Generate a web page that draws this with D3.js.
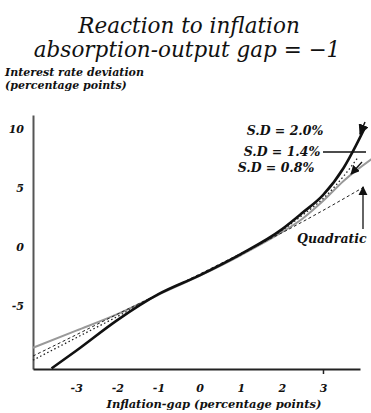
<!DOCTYPE html>
<html>
<head>
<meta charset="utf-8">
<script src="https://cdn.jsdelivr.net/npm/d3@7"></script>
<style>
	body { margin: 0; background: #fff; }
	svg { display: block; }
	.ttl { font-family: 'DejaVu Serif', serif; font-style: italic; font-size: 21.5px; fill: #111; }
	.lbl { font-family: 'DejaVu Serif', serif; font-style: italic; font-weight: bold; font-size: 11px; fill: #111; }
	.ann { font-family: 'DejaVu Serif', serif; font-style: italic; font-weight: bold; font-size: 12.5px; fill: #111; }
</style>
</head>
<body>
<div id="chart"></div>
<script>
// values (x = inflation gap, y = interest rate deviation)
let sd20X = [-3.6, -3, -2, -1, 0, 1, 2, 2.5, 3, 3.5, 3.8, 4.0];
let sd20Y = [-10.3, -8.8, -6.2, -4.0, -2.4, -0.6, 1.5, 2.9, 4.4, 6.7, 8.6, 10.0];
let sd14X = [-4.05, -3, -2, -1, 0, 1, 2, 2.5, 3, 3.5, 3.85];
let sd14Y = [-9.6, -7.7, -5.9, -4.0, -2.4, -0.65, 1.4, 2.7, 4.1, 6.0, 7.6];
let sd08X = [-4.05, -3, -2, -1, 0, 1, 2, 2.5, 3, 3.5, 4.2];
let sd08Y = [-8.55, -7.1, -5.7, -4.05, -2.45, -0.7, 1.25, 2.4, 3.9, 5.6, 7.5];
let quadX = [-4.05, -3, -2, -1, 0, 1, 2, 3, 4.0];
let quadY = [-9.25, -7.45, -5.7, -4.0, -2.3, -0.55, 1.2, 3.1, 5.1];
let xTicks = [-3, -2, -1, 0, 1, 2, 3];
let yTicks = [-5, 0, 5, 10];

const W = 371, H = 413;
const svg = d3.select('#chart').append('svg').attr('width', W).attr('height', H);

const defs = svg.append('defs');
defs.append('marker')
	.attr('id', 'ah')
	.attr('viewBox', '0 0 10 10')
	.attr('refX', 9).attr('refY', 5)
	.attr('markerWidth', 7).attr('markerHeight', 7)
	.attr('orient', 'auto')
	.append('path').attr('d', 'M0,0 L10,5 L0,10 z').attr('fill', '#111');

let x = d3.scaleLinear().domain([-4.05, 3.9]).range([33, 360]);
let y = d3.scaleLinear().domain([-10.35, 11.2]).range([369, 115]);
let fmt = d => String(d); // plain hyphen minus, as in the scan

// titles
svg.append('text').attr('class', 'ttl').attr('x', 189).attr('y', 33).attr('text-anchor', 'middle').text('Reaction to inflation');
svg.append('text').attr('class', 'ttl').attr('x', 187).attr('y', 57).attr('text-anchor', 'middle').text('absorption-output gap = \u22121');
svg.append('text').attr('class', 'lbl').attr('x', 5).attr('y', 76).text('Interest rate deviation');
svg.append('text').attr('class', 'lbl').attr('x', 5).attr('y', 89).text('(percentage points)');

// axes
let yAxis = d3.axisLeft(y).tickValues(yTicks).tickSize(0).tickPadding(9).tickFormat(fmt);
let yg = svg.append('g').attr('transform', 'translate(33,0)').call(yAxis);
yg.select('.domain').attr('stroke', '#555').attr('stroke-width', 2);
yg.selectAll('text').attr('class', 'lbl').attr('font-size', null).attr('font-family', null);

let xAxis = d3.axisBottom(x).tickValues(xTicks).tickSize(0).tickPadding(15).tickFormat(fmt);
let xg = svg.append('g').attr('transform', 'translate(0,369)').call(xAxis);
xg.select('.domain').attr('stroke', '#222').attr('stroke-width', 2);
xg.selectAll('text').attr('class', 'lbl').attr('font-size', null).attr('font-family', null);
xg.selectAll('.tick').filter(d => d === 3).select('line').attr('y2', 5).attr('stroke', '#222').attr('stroke-width', 1.5);

svg.append('text').attr('class', 'lbl').attr('x', 214).attr('y', 408).attr('text-anchor', 'middle').style('font-size', '11.5px').text('Inflation-gap (percentage points)');

// curves
const line = d3.line().x(d => x(d[0])).y(d => y(d[1])).curve(d3.curveMonotoneX);
const series = [
	{ xs: sd08X, ys: sd08Y, stroke: '#999', width: 2, dash: null },
	{ xs: quadX, ys: quadY, stroke: '#222', width: 1, dash: '3,2.5' },
	{ xs: sd14X, ys: sd14Y, stroke: '#222', width: 1.3, dash: '1.5,2.5' },
	{ xs: sd20X, ys: sd20Y, stroke: '#111', width: 2.6, dash: null }
];
series.forEach(s => {
	svg.append('path')
		.datum(d3.zip(s.xs, s.ys))
		.attr('d', line)
		.attr('fill', 'none')
		.attr('stroke', s.stroke)
		.attr('stroke-width', s.width)
		.attr('stroke-dasharray', s.dash);
});

// annotations
svg.append('text').attr('class', 'ann').attr('x', 285).attr('y', 135).attr('text-anchor', 'middle').text('S.D = 2.0%');
svg.append('text').attr('class', 'ann').attr('x', 282).attr('y', 156).attr('text-anchor', 'middle').text('S.D = 1.4%');
svg.append('text').attr('class', 'ann').attr('x', 276).attr('y', 172).attr('text-anchor', 'middle').text('S.D = 0.8%');
svg.append('text').attr('class', 'ann').attr('x', 297).attr('y', 243).text('Quadratic');

svg.append('line').attr('x1', 365).attr('y1', 122).attr('x2', 360).attr('y2', 134)
	.attr('stroke', '#111').attr('stroke-width', 1.5).attr('marker-end', 'url(#ah)');
svg.append('line').attr('x1', 323).attr('y1', 152).attr('x2', 366).attr('y2', 152)
	.attr('stroke', '#111').attr('stroke-width', 1.3);
svg.append('line').attr('x1', 362).attr('y1', 162).attr('x2', 351).attr('y2', 174)
	.attr('stroke', '#111').attr('stroke-width', 1.3).attr('marker-end', 'url(#ah)');
svg.append('line').attr('x1', 363).attr('y1', 229).attr('x2', 363).attr('y2', 187)
	.attr('stroke', '#111').attr('stroke-width', 1.3).attr('marker-end', 'url(#ah)');
</script>
</body>
</html>
